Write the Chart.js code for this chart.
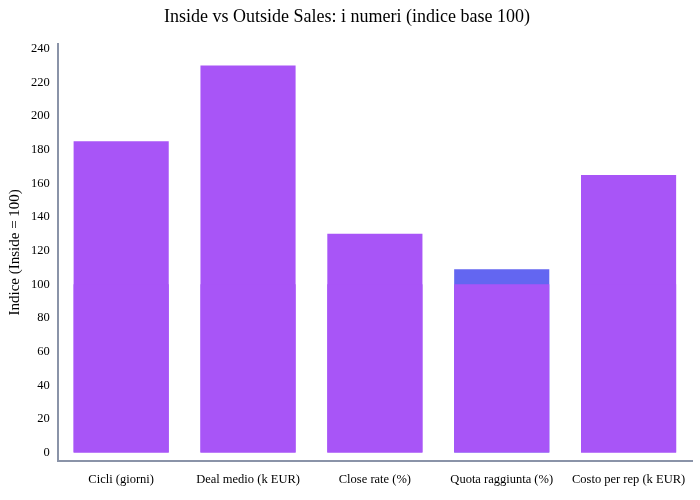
<!DOCTYPE html>
<html>
<head>
<meta charset="utf-8">
<script src="https://cdn.jsdelivr.net/npm/chart.js@4"></script>
<style>
  body { margin: 0; background: #fff; }
  #wrap { width: 700px; height: 500px; }
</style>
</head>
<body>
<div id="wrap"><canvas id="chart"></canvas></div>
<script>
const categories = ['Cicli (giorni)', 'Deal medio (k EUR)', 'Close rate (%)', 'Quota raggiunta (%)', 'Costo per rep (k EUR)'];
const insideValues = [100, 100, 100, 100, 100];
const outsideValues = [185, 230, 130, 109, 165];
const yTicks = [0, 20, 40, 60, 80, 100, 120, 140, 160, 180, 200, 220, 240];

const purple = '#a855f7';
const blue = '#6366f1';
// outside bars share the purple except where Inside beats the quota line
const outsideColors = outsideValues.map((v, i) => i === 3 ? blue : purple);

Chart.defaults.font.family = '"Liberation Serif", "Times New Roman", serif';
Chart.defaults.color = '#000';

new Chart(document.getElementById('chart'), {
    type: 'bar',
    data: {
        labels: categories,
        datasets: [
            { label: 'Inside', data: insideValues, backgroundColor: purple, grouped: false, order: 0 },
            { label: 'Outside', data: outsideValues, backgroundColor: outsideColors, grouped: false, order: 1 }
        ]
    },
    options: {
        responsive: true,
        maintainAspectRatio: false,
        animation: false,
        layout: { padding: { top: 4, right: 8, left: 2, bottom: 10 } },
        datasets: { bar: { barPercentage: 0.75, categoryPercentage: 1 } },
        plugins: {
            legend: { display: false },
            tooltip: { enabled: false },
            title: {
                display: true,
                text: 'Inside vs Outside Sales: i numeri (indice base 100)',
                font: { size: 18, weight: 'normal' },
                color: '#000',
                padding: { top: 2, bottom: 16 }
            }
        },
        scales: {
            x: {
                grid: { display: false, drawTicks: true },
                border: { color: '#8a93a8', width: 2 },
                ticks: { font: { size: 12.5 }, maxRotation: 0, autoSkip: false }
            },
            y: {
                min: -5,
                max: 243,
                afterBuildTicks: axis => { axis.ticks = yTicks.map(v => ({ value: v })); },
                grid: { display: false, drawTicks: true, tickLength: 5 },
                border: { color: '#8a93a8', width: 2 },
                ticks: { font: { size: 12.5 } },
                title: { display: true, text: 'Indice (Inside = 100)', font: { size: 15 } }
            }
        }
    }
});
</script>
</body>
</html>
